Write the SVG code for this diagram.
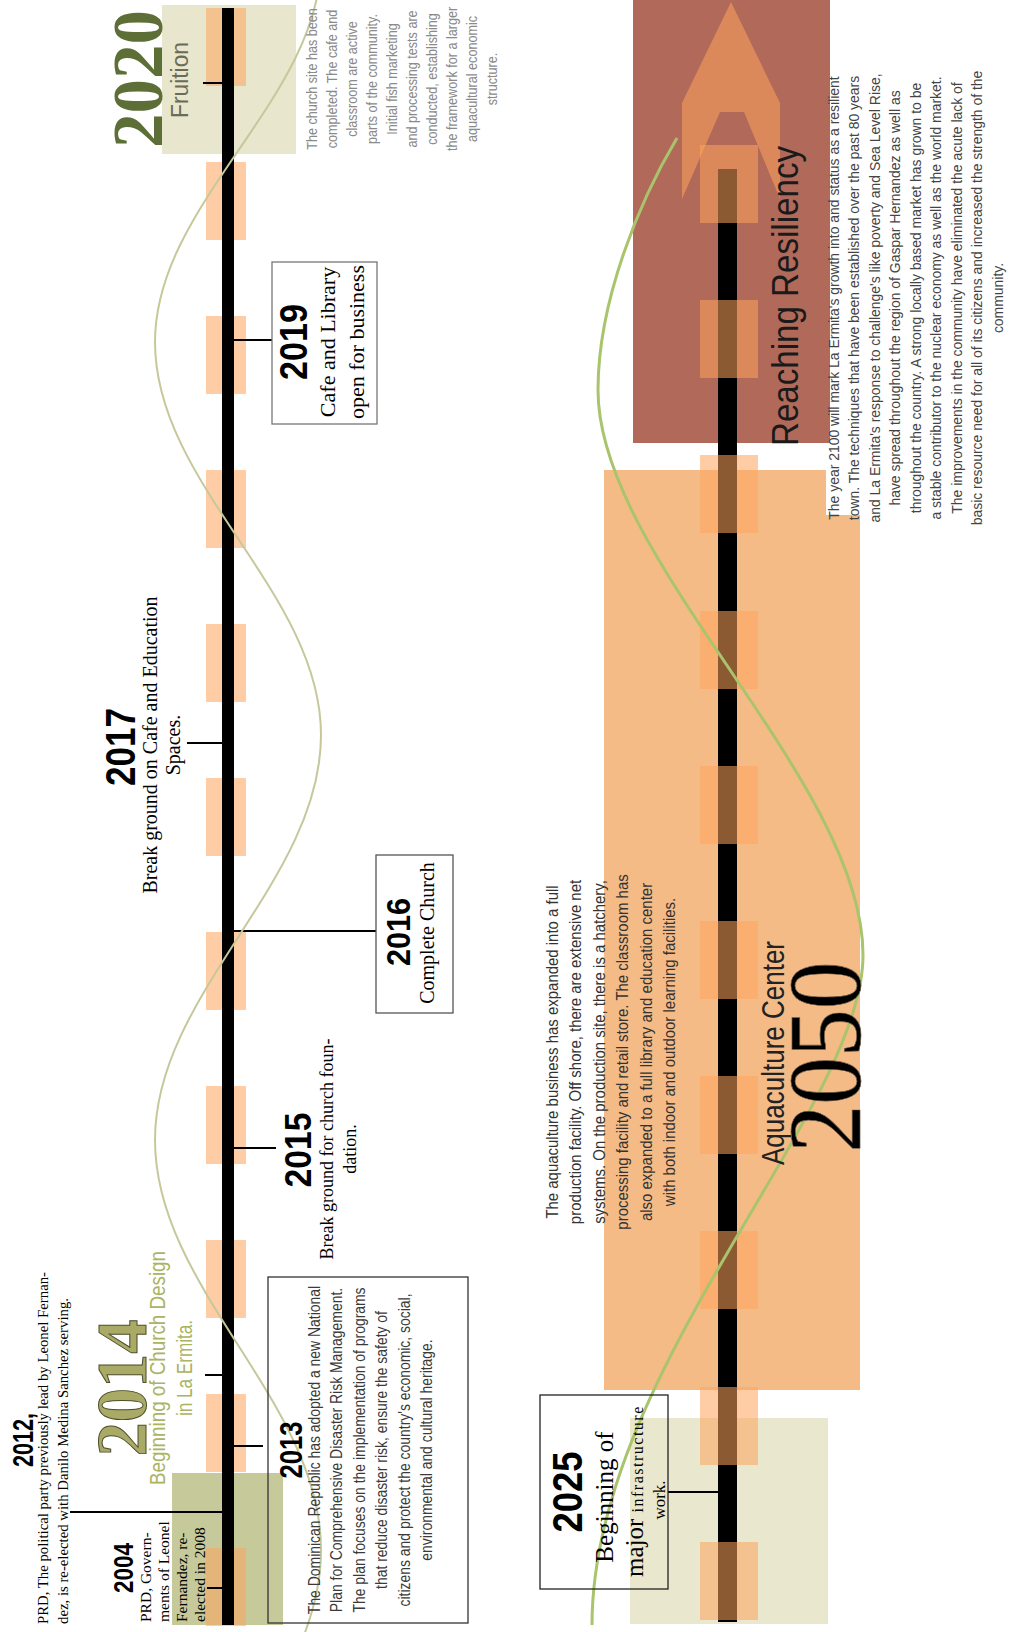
<svg xmlns="http://www.w3.org/2000/svg" width="1011" height="1632" viewBox="0 0 1011 1632">
<style>
.yr{font-family:"Liberation Sans",Arial,sans-serif;font-weight:bold;fill:#000;text-anchor:middle}
.ser{font-family:"Liberation Serif","Times New Roman",serif;fill:#000}
.sans{font-family:"Liberation Sans",Arial,sans-serif}
.mid{text-anchor:middle}
.box{fill:none;stroke:#333;stroke-width:1.3}
.tick{stroke:#000;stroke-width:2}
.peach{fill:#fda45b;fill-opacity:0.55}
.big{font-family:"Liberation Serif","Times New Roman",serif;font-weight:bold;text-anchor:middle}
</style>
<rect width="1011" height="1632" fill="#fff"/>

<!-- left timeline backgrounds -->
<g id="left-backgrounds">
<rect x="162" y="5" width="134" height="149" fill="#e8e6cc"/>
<rect x="172" y="1473" width="111" height="152" fill="#c6ca9b"/>
</g>
<g id="left-timeline">
<rect class="peach" x="206" y="8" width="40" height="78"/>
<rect class="peach" x="206" y="162" width="40" height="78"/>
<rect class="peach" x="206" y="316" width="40" height="78"/>
<rect class="peach" x="206" y="470" width="40" height="78"/>
<rect class="peach" x="206" y="624" width="40" height="78"/>
<rect class="peach" x="206" y="778" width="40" height="78"/>
<rect class="peach" x="206" y="932" width="40" height="78"/>
<rect class="peach" x="206" y="1086" width="40" height="78"/>
<rect class="peach" x="206" y="1240" width="40" height="78"/>
<rect class="peach" x="206" y="1394" width="40" height="78"/>
<rect class="peach" x="206" y="1548" width="40" height="78"/>
<rect x="222" y="8" width="12" height="1617" fill="#000"/>
</g>

<!-- right backgrounds -->
<g id="right-backgrounds">
<rect x="630" y="1418" width="198" height="206" fill="#e9e7cd"/>
<rect x="604" y="470" width="256" height="920" fill="#f5bb87"/>
<rect x="826" y="60" width="185" height="455" fill="#fff"/>
<rect x="633" y="0" width="197" height="443" fill="#b1695a"/>
<polygon class="peach" points="731,2 780,103 780,199 744,112 720,112 682,199 682,103"/>
</g>
<g id="right-timeline">
<rect x="718" y="169" width="19" height="1453" fill="#000"/>
<rect class="peach" x="700" y="145" width="58" height="78"/>
<rect class="peach" x="700" y="300" width="58" height="78"/>
<rect class="peach" x="700" y="455" width="58" height="78"/>
<rect class="peach" x="700" y="611" width="58" height="78"/>
<rect class="peach" x="700" y="766" width="58" height="78"/>
<rect class="peach" x="700" y="921" width="58" height="78"/>
<rect class="peach" x="700" y="1076" width="58" height="78"/>
<rect class="peach" x="700" y="1231" width="58" height="78"/>
<rect class="peach" x="700" y="1387" width="58" height="78"/>
<rect class="peach" x="700" y="1542" width="58" height="78"/>
</g>

<!-- connectors -->
<g id="connectors">
<line class="tick" x1="203" y1="83" x2="222" y2="83"/>
<line class="tick" x1="234" y1="340" x2="272" y2="340"/>
<line class="tick" x1="187" y1="743" x2="222" y2="743"/>
<line class="tick" x1="234" y1="931" x2="376" y2="931"/>
<line class="tick" x1="234" y1="1148" x2="276" y2="1148"/>
<line class="tick" x1="205" y1="1375" x2="222" y2="1375"/>
<line class="tick" x1="234" y1="1446" x2="263" y2="1446"/>
<line class="tick" x1="70" y1="1512" x2="222" y2="1512"/>
<line class="tick" x1="207" y1="1588" x2="222" y2="1588"/>
<line class="tick" x1="668" y1="1492" x2="718" y2="1492"/>
</g>

<!-- curves -->
<g id="curves" fill="none">
<path d="M321,-40 C321,99 155,203 155,342 C155,485 321,592 321,735 C321,882 155,993 155,1140 C155,1289 321,1401 321,1550 C321,1700 155,1811 155,1960" stroke="#c6c89c" stroke-width="2"/>
<path d="M677,138 C640,200 598,300 598,390 C598,560 863,780 863,955 C863,1110 592,1370 592,1625" stroke="#a9c46c" stroke-width="3"/>
</g>

<!-- nodes -->
<g id="node-2020">
<text class="big" transform="translate(0,79) rotate(-90)" y="162" font-size="72" textLength="138" lengthAdjust="spacingAndGlyphs" fill="#5d6e36">2020</text>
<text class="sans mid" transform="translate(0,80) rotate(-90)" y="188" font-size="23" textLength="76" lengthAdjust="spacingAndGlyphs" fill="#6b6b58">Fruition</text>
<g class="sans mid" transform="translate(0,79) rotate(-90) scale(0.84,1)" font-size="15" fill="#8a8a8a">
<text y="317">The church site has been</text>
<text y="337">completed. The cafe and</text>
<text y="357">classroom are active</text>
<text y="377">parts of the community.</text>
<text y="397">Initial fish marketing</text>
<text y="417">and processing tests are</text>
<text y="437">conducted, establishing</text>
<text y="457">the framework for a larger</text>
<text y="477">aquacultural economic</text>
<text y="497">structure.</text>
</g>
</g>

<g id="node-2019">
<rect class="box" x="272" y="262" width="105" height="162" style="stroke:#777"/>
<text class="yr" transform="translate(0,342) rotate(-90)" y="307" font-size="38" textLength="76" lengthAdjust="spacingAndGlyphs">2019</text>
<g class="ser mid" transform="translate(0,342) rotate(-90)" font-size="22">
<text y="335">Cafe and Library</text>
<text y="364">open for business</text>
</g>
</g>

<g id="node-2017">
<text class="yr" transform="translate(0,747) rotate(-90)" y="135" font-size="42" textLength="78" lengthAdjust="spacingAndGlyphs">2017</text>
<g class="ser mid" transform="translate(0,745) rotate(-90)" font-size="20">
<text y="157">Break ground on Cafe and Education</text>
<text y="180">Spaces.</text>
</g>
</g>

<g id="node-2016">
<rect class="box" x="376" y="855" width="77" height="158" style="stroke:#555"/>
<text class="yr" transform="translate(0,932) rotate(-90)" y="410" font-size="33" textLength="68" lengthAdjust="spacingAndGlyphs">2016</text>
<text class="ser mid" transform="translate(0,933) rotate(-90)" y="434" font-size="20">Complete Church</text>
</g>

<g id="node-2015">
<text class="yr" transform="translate(0,1150) rotate(-90)" y="311" font-size="37" textLength="75" lengthAdjust="spacingAndGlyphs">2015</text>
<g class="ser mid" transform="translate(0,1149) rotate(-90)" font-size="18">
<text y="333">Break ground for church foun-</text>
<text y="356">dation.</text>
</g>
</g>

<g id="node-2014">
<text class="big" transform="translate(0,1388) rotate(-90)" y="146" font-size="72" textLength="137" lengthAdjust="spacingAndGlyphs" fill="#a9aa66" stroke="#4d4d2d" stroke-width="1">2014</text>
<g class="sans mid" transform="translate(0,1368) rotate(-90)" font-size="22" fill="#aab463">
<text y="165" textLength="234" lengthAdjust="spacingAndGlyphs">Beginning of Church Design</text>
<text y="192" textLength="96" lengthAdjust="spacingAndGlyphs">in La Ermita.</text>
</g>
</g>

<g id="node-2013">
<rect class="box" x="268" y="1277" width="200" height="346"/>
<text class="yr" transform="translate(0,1450) rotate(-90)" y="302" font-size="32" textLength="57" lengthAdjust="spacingAndGlyphs">2013</text>
<g class="sans mid" transform="translate(0,1450) rotate(-90) scale(0.82,1)" font-size="17" fill="#3a3a3a">
<text y="320">The Dominican Republic has adopted a new National</text>
<text y="342.5">Plan for Comprehensive Disaster Risk Management.</text>
<text y="365">The plan focuses on the implementation of programs</text>
<text y="387.5">that reduce disaster risk, ensure the safety of</text>
<text y="410">citizens and protect the country's economic, social,</text>
<text y="432.5">environmental and cultural heritage.</text>
</g>
</g>

<g id="node-2012">
<text class="yr" transform="translate(0,1440) rotate(-90)" y="33" font-size="29" textLength="54" lengthAdjust="spacingAndGlyphs">2012,</text>
<g class="ser" transform="translate(0,1624) rotate(-90)" font-size="15">
<text y="48" textLength="352" lengthAdjust="spacingAndGlyphs">PRD, The political party previously lead by Leonel Fernan-</text>
<text y="68" textLength="326" lengthAdjust="spacingAndGlyphs">dez, is re-elected with Danilo Medina Sanchez serving.</text>
</g>
</g>

<g id="node-2004">
<text class="yr" transform="translate(0,1568) rotate(-90)" y="133" font-size="27" textLength="50" lengthAdjust="spacingAndGlyphs">2004</text>
<g class="ser" transform="translate(0,1622) rotate(-90)" font-size="15.5">
<text y="151">PRD, Govern-</text>
<text y="169">ments of Leonel</text>
<text y="187">Fernandez, re-</text>
<text y="205">elected in 2008</text>
</g>
</g>

<g id="node-2025">
<rect class="box" x="540" y="1395" width="128" height="194" style="stroke:#222"/>
<text class="yr" transform="translate(0,1492) rotate(-90)" y="582" font-size="42" textLength="81" lengthAdjust="spacingAndGlyphs">2025</text>
<text class="ser mid" transform="translate(0,1497) rotate(-90)" y="613" font-size="25">Beginning of</text>
<text class="ser" transform="translate(0,1577) rotate(-90)" y="643"><tspan font-size="25">major </tspan><tspan font-size="16" letter-spacing="1.5">infrastructure</tspan></text>
<text class="ser mid" transform="translate(0,1500) rotate(-90)" y="665" font-size="17">work.</text>
</g>

<g id="node-2050">
<g class="sans mid" transform="translate(0,1052) rotate(-90) scale(0.88,1)" font-size="17" fill="#333">
<text y="558">The aquaculture business has expanded into a full</text>
<text y="581.5">production facility. Off shore, there are extensive net</text>
<text y="605">systems. On the production site, there is a hatchery,</text>
<text y="628.5">processing facility and retail store. The classroom has</text>
<text y="652">also expanded to a full library and education center</text>
<text y="675.5">with both indoor and outdoor learning facilities.</text>
</g>
<text class="sans mid" transform="translate(0,1053) rotate(-90)" y="784" font-size="31" textLength="224" lengthAdjust="spacingAndGlyphs" fill="#222">Aquaculture Center</text>
<text class="ser mid" transform="translate(0,1057) rotate(-90)" y="860" font-size="103" textLength="191" lengthAdjust="spacingAndGlyphs" fill="none" stroke="#6b5a48" stroke-width="0.7">2050</text>
</g>

<g id="node-2100">
<text class="sans mid" transform="translate(0,296) rotate(-90)" y="798" font-size="36" textLength="300" lengthAdjust="spacingAndGlyphs" fill="#1a1a1a">Reaching Resiliency</text>
<g class="sans mid" transform="translate(0,298) rotate(-90) scale(0.93,1)" font-size="15" fill="#444">
<text y="839">The year 2100 will mark La Ermita's growth into and status as a resilient</text>
<text y="859.5">town. The techniques that have been established over the past 80 years</text>
<text y="880">and La Ermita's response to challenge's like poverty and Sea Level Rise,</text>
<text y="900.5">have spread throughout the region of Gaspar Hernandez as well as</text>
<text y="921">throughout the country. A strong locally based market has grown to be</text>
<text y="941.5">a stable contributor to the nuclear economy as well as the world market.</text>
<text y="962">The improvements in the community have eliminated the acute lack of</text>
<text y="982.5">basic resource need for all of its citizens and  increased the strength of the</text>
<text y="1003">community.</text>
</g>
</g>
</svg>
